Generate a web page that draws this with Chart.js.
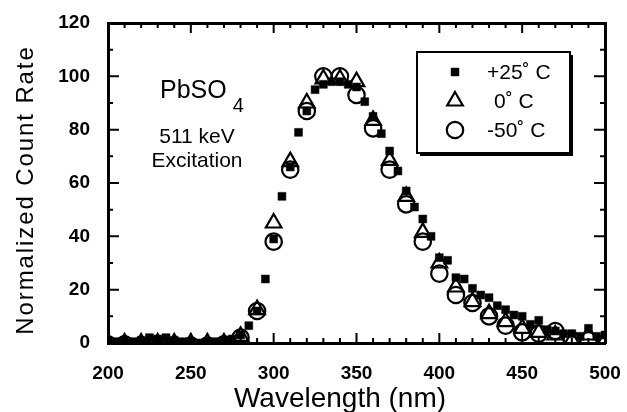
<!DOCTYPE html>
<html>
<head>
<meta charset="utf-8">
<script src="https://cdn.jsdelivr.net/npm/chart.js@4.4.1/dist/chart.umd.min.js"></script>
<style>
  html, body { margin: 0; padding: 0; background: #fff; }
  #wrap { width: 627px; height: 412px; }
</style>
</head>
<body>
<div id="wrap"><canvas id="c" width="627" height="412"></canvas></div>
<script>
// Emission spectrum of PbSO4 under 511 keV excitation at three temperatures
const wavelength5 = [200, 205, 210, 215, 220, 225, 230, 235, 240, 245, 250, 255, 260, 265, 270, 275,
  280, 285, 290, 295, 300, 305, 310, 315, 320, 325, 330, 335, 340, 345, 350, 355, 360, 365, 370, 375,
  380, 385, 390, 395, 400, 405, 410, 415, 420, 425, 430, 435, 440, 445, 450, 455, 460, 465, 470, 475,
  480, 485, 490, 495, 500];
const wavelength10 = [200, 210, 220, 230, 240, 250, 260, 270, 280, 290, 300, 310, 320, 330, 340, 350,
  360, 370, 380, 390, 400, 410, 420, 430, 440, 450, 460, 470, 480, 490, 500];

const ratePlus25 = [0.5, 0.5, 1, 0.5, 1, 2, 1.5, 2, 1, 0.5, 0.5, 0, 0.5, 0.5, 1, 1.5,
  3, 6.5, 12, 24, 39, 55, 66, 79, 87, 95, 97, 98, 98, 97, 96, 90.5, 85, 78.5, 72, 64.5,
  57, 51, 46.5, 40, 32, 31, 24.5, 24, 20.5, 18, 17, 14, 12.5, 10.5, 10, 7, 8.5, 5, 4.5, 3.5,
  3.5, 2.5, 5.5, 2.5, 3];
const rate0 = [0, 0, 0, 0, 0, 0, 0, 0, 2.5, 12.5, 45, 68, 90, 99, 99, 98,
  83.5, 68.5, 55, 41.5, 30, 21, 15.5, 11, 8, 5.5, 4, 3, 1, 3, 1];
const rateMinus50 = [-0.5, -0.5, -1, -0.5, -1, -1, -1, -0.5, 2, 12, 38, 65, 87, 100, 100, 93,
  80.5, 65, 52, 38, 26, 18, 15, 10, 6.5, 4, 3.5, 4.5, 1, 1, 0];

const seriesLabels = ['+25˚ C', '0˚ C', '-50˚ C'];
const xTicks = [200, 250, 300, 350, 400, 450, 500];
const yTicks = [0, 20, 40, 60, 80, 100, 120];
const xTitle = 'Wavelength (nm)';
const yTitle = 'Normalized Count Rate';

const FONT = '"Liberation Sans", Arial, Helvetica, sans-serif';

function pairs(xs, ys) { return xs.map((x, i) => ({ x: x, y: ys[i] })); }

// inward major/minor ticks on all four sides of the plot box
function drawInnerTicks(chart) {
  const ctx = chart.ctx;
  const x = chart.scales.x, y = chart.scales.y;
  const L = x.getPixelForValue(200), R = x.getPixelForValue(500);
  const T = y.getPixelForValue(120), B = y.getPixelForValue(0);
  ctx.save();
  ctx.strokeStyle = '#000';
  ctx.lineWidth = 2;
  ctx.beginPath();
  for (let v = 200; v <= 500; v += 10) {
    const px = x.getPixelForValue(v);
    const len = (v % 50 === 0) ? 10 : 5;
    ctx.moveTo(px, B); ctx.lineTo(px, B - len);
    ctx.moveTo(px, T); ctx.lineTo(px, T + len);
  }
  for (let v = 0; v <= 120; v += 10) {
    const py = y.getPixelForValue(v);
    const len = (v % 20 === 0) ? 11 : 5;
    ctx.moveTo(L, py); ctx.lineTo(L + len, py);
    ctx.moveTo(R, py); ctx.lineTo(R - len, py);
  }
  ctx.stroke();
  ctx.restore();
}

function drawTitles(chart) {
  const { ctx } = chart;
  ctx.save();
  ctx.fillStyle = '#000';
  ctx.textAlign = 'center';
  ctx.textBaseline = 'middle';
  ctx.font = '28px ' + FONT;
  ctx.fillText(xTitle, 340, 399);
  ctx.translate(26, 190);
  ctx.rotate(-Math.PI / 2);
  ctx.font = '24px ' + FONT;
  if ('letterSpacing' in ctx) ctx.letterSpacing = '1.9px';
  ctx.fillText(yTitle, 0, 0);
  ctx.restore();
}

function drawNotes(chart) {
  const { ctx } = chart;
  ctx.save();
  ctx.fillStyle = '#000';
  ctx.textBaseline = 'alphabetic';
  ctx.textAlign = 'left';
  ctx.font = '25px ' + FONT;
  ctx.fillText('PbSO', 160, 98);
  const w = ctx.measureText('PbSO').width;
  ctx.font = '20px ' + FONT;
  ctx.fillText('4', 160 + w + 6, 112);
  ctx.textAlign = 'center';
  ctx.font = '21px ' + FONT;
  ctx.fillText('511 keV', 197, 143);
  ctx.fillText('Excitation', 197, 167);
  ctx.restore();
}

function drawKey(chart) {
  const { ctx } = chart;
  ctx.save();
  const bx = 417, by = 52, bw = 153, bh = 101;
  ctx.fillStyle = '#000';
  ctx.fillRect(bx + 3, by + 3, bw, bh);
  ctx.fillStyle = '#fff';
  ctx.fillRect(bx, by, bw, bh);
  ctx.strokeStyle = '#000';
  ctx.lineWidth = 2;
  ctx.strokeRect(bx, by, bw, bh);

  const rows = [72, 101, 130];
  const textX = [487, 494, 487];
  const sizes = [5.6, 9, 8.2];
  chart.data.datasets.forEach((ds, i) => {
    const cy = rows[i];
    ctx.save();
    ctx.fillStyle = ds.pointBackgroundColor;
    ctx.strokeStyle = '#000';
    ctx.lineWidth = ds.pointBorderWidth;
    Chart.helpers.drawPoint(ctx, {
      pointStyle: ds.pointStyle,
      rotation: 0,
      radius: sizes[i],
      borderWidth: ds.pointBorderWidth
    }, 455, cy);
    ctx.restore();
    ctx.fillStyle = '#000';
    ctx.textAlign = 'left';
    ctx.textBaseline = 'middle';
    ctx.font = '21px ' + FONT;
    ctx.fillText(ds.label, textX[i], cy + 1);
  });
  ctx.restore();
}

const decorPlugin = {
  id: 'decor',
  beforeDatasetsDraw(chart) {
    drawInnerTicks(chart);
  },
  afterDraw(chart) {
    drawTitles(chart);
    drawNotes(chart);
    drawKey(chart);
  }
};

// the box edges come from the four axis borders
const edge = { display: true, color: '#000', width: 3 };
const hiddenGrid = { display: false, drawTicks: false };

const chart = new Chart(document.getElementById('c'), {
  type: 'scatter',
  data: {
    datasets: [
      {
        label: seriesLabels[0],
        data: pairs(wavelength5, ratePlus25),
        pointStyle: 'rect',
        pointRadius: 5.6,
        pointBackgroundColor: '#000',
        pointBorderColor: '#000',
        pointBorderWidth: 0.5
      },
      {
        label: seriesLabels[1],
        data: pairs(wavelength10, rate0),
        pointStyle: 'triangle',
        pointRadius: 9,
        pointBackgroundColor: 'rgba(0,0,0,0)',
        pointBorderColor: '#000',
        pointBorderWidth: 2.2
      },
      {
        label: seriesLabels[2],
        data: pairs(wavelength10, rateMinus50),
        pointStyle: 'circle',
        pointRadius: 8.2,
        pointBackgroundColor: 'rgba(0,0,0,0)',
        pointBorderColor: '#000',
        pointBorderWidth: 2.2
      }
    ]
  },
  options: {
    responsive: false,
    animation: false,
    events: [],
    layout: { padding: { left: 0, right: 22, top: 23, bottom: 0 } },
    plugins: { legend: { display: false }, tooltip: { enabled: false } },
    scales: {
      x: {
        type: 'linear',
        min: 200, max: 500,
        afterBuildTicks(scale) { scale.ticks = xTicks.map(v => ({ value: v })); },
        afterFit(scale) { scale.height = 69; scale.paddingLeft = 0; scale.paddingRight = 0; },
        grid: hiddenGrid,
        border: edge,
        ticks: { color: '#000', padding: 19, maxRotation: 0, font: { family: FONT, size: 19, weight: 'bold' } }
      },
      x2: {
        type: 'linear', position: 'top',
        min: 200, max: 500,
        afterFit(scale) { scale.height = 0; scale.paddingLeft = 0; scale.paddingRight = 0; },
        grid: hiddenGrid,
        border: edge,
        ticks: { display: false }
      },
      y: {
        type: 'linear',
        min: 0, max: 120,
        afterBuildTicks(scale) { scale.ticks = yTicks.map(v => ({ value: v })); },
        afterFit(scale) { scale.width = 108; scale.paddingTop = 0; scale.paddingBottom = 0; },
        grid: hiddenGrid,
        border: edge,
        ticks: { color: '#000', padding: 18, font: { family: FONT, size: 19, weight: 'bold' } }
      },
      y2: {
        type: 'linear', position: 'right',
        min: 0, max: 120,
        afterFit(scale) { scale.width = 0; scale.paddingTop = 0; scale.paddingBottom = 0; },
        grid: hiddenGrid,
        border: edge,
        ticks: { display: false }
      }
    }
  },
  plugins: [decorPlugin]
});
</script>
</body>
</html>
